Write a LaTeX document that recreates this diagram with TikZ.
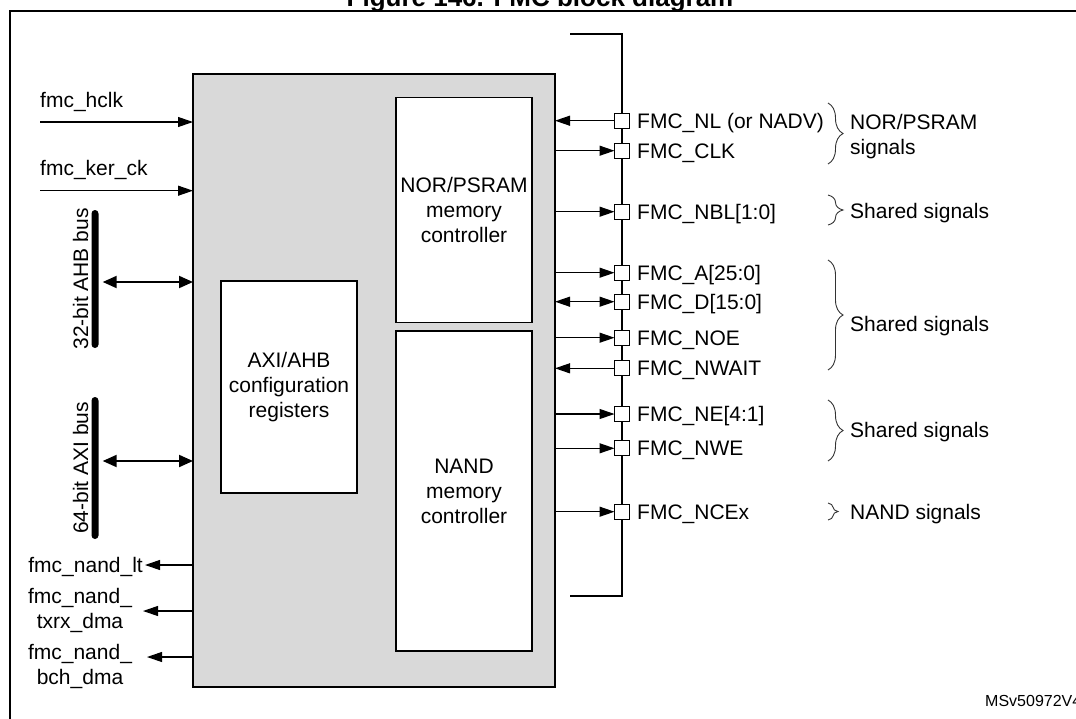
\documentclass[tikz,border=0pt]{standalone}
\usepackage{fontspec}
\setmainfont{Liberation Sans}
\usetikzlibrary{arrows.meta,decorations.pathreplacing,calc}
\definecolor{boxgrey}{HTML}{D9D9D9}
\begin{document}
\begin{tikzpicture}[x=1pt,y=-1pt,
  lbl/.style={font=\fontsize{21}{25}\selectfont, inner sep=0pt},
  mainbox/.style={draw, line width=2pt, fill=boxgrey, inner sep=0pt, outer sep=0pt},
  innerbox/.style={draw, line width=1.1pt, fill=white, inner sep=0pt, outer sep=0pt, align=center, font=\fontsize{21}{25}\selectfont},
  pinbox/.style={draw, line width=1.3pt, fill=white, minimum size=15pt, inner sep=0pt, outer sep=0pt},
  barnode/.style={fill=black, minimum width=7pt, inner sep=0pt, rounded corners=3.5pt},
  sig/.style={line width=1.1pt, -{Triangle[length=15pt,width=10pt]}},
  sigboth/.style={line width=1.1pt, {Triangle[length=15pt,width=10pt]}-{Triangle[length=15pt,width=10pt]}},
  busarrow/.style={line width=2pt, {Triangle[length=14pt,width=12pt]}-{Triangle[length=14pt,width=12pt]}},
  busline/.style={line width=2.5pt},
  brc/.style={decorate, decoration={brace, amplitude=15pt}, line width=0.9pt, draw=black!80},
]
\useasboundingbox (0,0) rectangle (1076,718);

% title (cut at the top) and frame
\node (title) [font=\bfseries\fontsize{26}{30}\selectfont, anchor=base, inner sep=0pt] at (540,6.5) {Figure 146. FMC block diagram};
\draw[line width=2pt] (10,730) -- (10,11) -- (1090,11);

% main block
\node (main) [mainbox, minimum width=362pt, minimum height=613pt] at (374,380.5) {};
\node (nor) [innerbox, minimum width=136pt, minimum height=225pt] at (464,210) {NOR/PSRAM\\memory\\controller};
\node (nand) [innerbox, minimum width=136pt, minimum height=320pt] at (464,491) {NAND\\memory\\controller};
\node (axi) [innerbox, minimum width=136pt, minimum height=212pt] at (289,387) {AXI/AHB\\configuration\\registers};

% left inputs
\coordinate (hclkS) at (40,122);
\node (thclk) [lbl, anchor=base west] at (40,107) {fmc\_hclk};
\draw[sig] (hclkS) -- (hclkS -| main.west);
\coordinate (kerS) at (40,190.7);
\node (tker) [lbl, anchor=base west] at (40,175) {fmc\_ker\_ck};
\draw[sig] (kerS) -- (kerS -| main.west);

% buses
\node (ahb) [barnode, minimum height=138pt] at (95,279) {};
\node (tahb) [lbl, rotate=90, anchor=base] at (88,279) {32-bit AHB bus};
\coordinate (ahbY) at (0,282);
\draw[busarrow, shorten <=4pt] (ahb.east |- ahbY) -- (ahbY -| main.west);
\node (axib) [barnode, minimum height=142pt] at (95,468) {};
\node (taxi) [lbl, rotate=90, anchor=base] at (88,468) {64-bit AXI bus};
\coordinate (axiY) at (0,461);
\draw[busarrow, shorten <=4pt] (axib.east |- axiY) -- (axiY -| main.west);

% left outputs
\node (tlt) [lbl, anchor=base east, inner sep=1pt] at (144,572) {fmc\_nand\_lt};
\coordinate (ltA) at (145,565);
\draw[sig] (ltA -| main.west) -- (ltA);
\node (ttx) [lbl, align=center] at (80,610) {fmc\_nand\_\\txrx\_dma};
\coordinate (txA) at (143,611);
\draw[sig] (txA -| main.west) -- (txA);
\node (tbch) [lbl, align=center] at (80,666) {fmc\_nand\_\\bch\_dma};
\coordinate (bchA) at (147,657);
\draw[sig] (bchA -| main.west) -- (bchA);

% external bus line
\coordinate (busT) at (570,34);
\coordinate (busB) at (570,596);
\draw[busline] (busT) -- (622,34) -- (622,596) -- (busB);

% pins
\foreach \n/\y in {NL/120.7, CLK/150.7, NBL/211.7, A/272.7, D/301.7, NOE/337.7, NWAIT/368.3, NE/414, NWE/448.3, NCE/511.7}{
  \node (p\n) [pinbox] at (622,\y) {};
}
\draw[sig] (pNL.west) -- (pNL.west -| main.east);
\draw[sig] (pCLK.west -| main.east) -- (pCLK.west);
\draw[sig] (pNBL.west -| main.east) -- (pNBL.west);
\draw[sig] (pA.west -| main.east) -- (pA.west);
\draw[sigboth] (pD.west -| main.east) -- (pD.west);
\draw[sig] (pNOE.west -| main.east) -- (pNOE.west);
\draw[sig] (pNWAIT.west) -- (pNWAIT.west -| main.east);
\draw[sig] (pNE.west -| main.east) -- (pNE.west);
\draw[sig] (pNWE.west -| main.east) -- (pNWE.west);
\draw[sig] (pNCE.west -| main.east) -- (pNCE.west);

% pin labels
\node (tNL) [lbl, anchor=base west] at (637,128.2) {FMC\_NL (or NADV)};
\node (tCLK) [lbl, anchor=base west] at (637,158.2) {FMC\_CLK};
\node (tNBL) [lbl, anchor=base west] at (637,219.2) {FMC\_NBL[1:0]};
\node (tA) [lbl, anchor=base west] at (637,280.2) {FMC\_A[25:0]};
\node (tD) [lbl, anchor=base west] at (637,309.2) {FMC\_D[15:0]};
\node (tNOE) [lbl, anchor=base west] at (637,345.2) {FMC\_NOE};
\node (tNWAIT) [lbl, anchor=base west] at (637,375.8) {FMC\_NWAIT};
\node (tNE) [lbl, anchor=base west] at (637,421.5) {FMC\_NE[4:1]};
\node (tNWE) [lbl, anchor=base west] at (637,455.8) {FMC\_NWE};
\node (tNCE) [lbl, anchor=base west] at (637,519.2) {FMC\_NCEx};

% braces and group labels
\draw[brc] (828,103) -- (828,164);
\node (gNOR) [lbl, align=left, anchor=west] at (850,136.5) {NOR/PSRAM\\signals};
\draw[brc] (828,195) -- (828,225);
\node (gS1) [lbl, anchor=base west] at (850,218.5) {Shared signals};
\draw[brc] (828,260) -- (828,370);
\node (gS2) [lbl, anchor=base west] at (850,331) {Shared signals};
\draw[brc] (828,400) -- (828,461);
\node (gS3) [lbl, anchor=base west] at (850,437) {Shared signals};
\draw[brc, decoration={brace, amplitude=10pt}] (828,503) -- (828,520);
\node (gNAND) [lbl, anchor=base west] at (850,519) {NAND signals};

% reference code
\node (ref) [font=\fontsize{16}{19}\selectfont, anchor=base west, inner sep=0pt] at (985,706) {MSv50972V4};
\end{tikzpicture}
\end{document}
